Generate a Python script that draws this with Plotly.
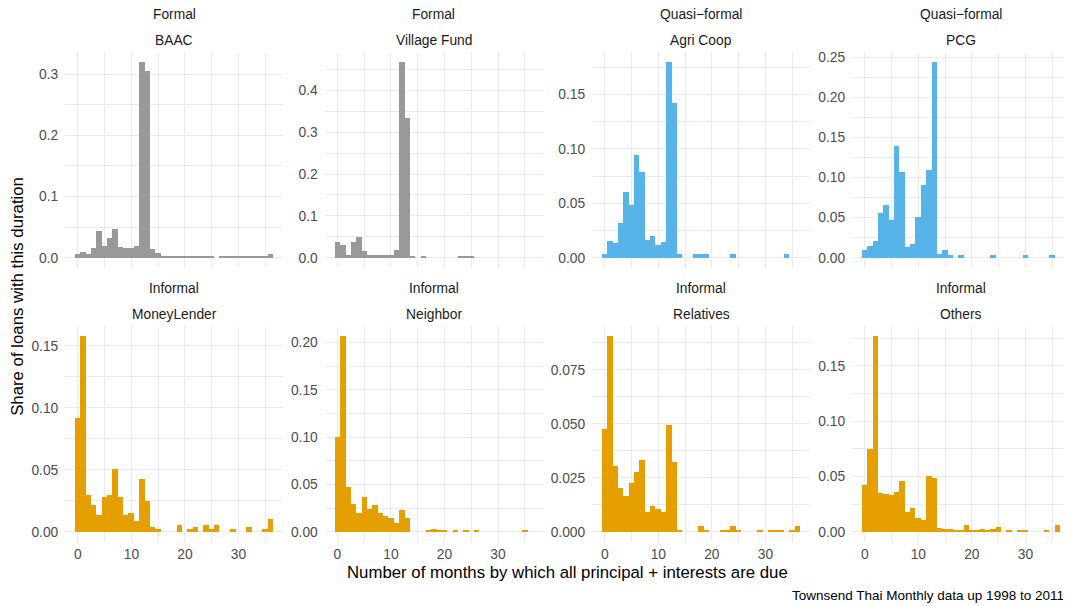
import plotly.graph_objects as go

# ---------------- data (share of loans by months until due, bins of width 1 centred on 0..36)
months = list(range(37))

baac = [0.0065, 0.009, 0.005, 0.015, 0.043, 0.019, 0.032, 0.047, 0.017, 0.016, 0.016, 0.019,
        0.320, 0.305, 0.014, 0.008, 0.001, 0.001, 0.001, 0.002, 0.001, 0.001, 0.001, 0.001,
        0.002, 0.002, 0.0, 0.002, 0.002, 0.001, 0.002, 0.002, 0.001, 0.001, 0.001, 0.001, 0.005]
village_fund = [0.037, 0.031, 0.005, 0.038, 0.050, 0.016, 0.007, 0.006, 0.005, 0.005, 0.007, 0.018,
                0.468, 0.333, 0.003, 0.0, 0.002, 0.0, 0.0, 0.0, 0.0, 0.0, 0.0, 0.002,
                0.004, 0.002, 0.0, 0.0, 0.0, 0.0, 0.0, 0.0, 0.0, 0.0, 0.0, 0.0, 0.0]
agri_coop = [0.003, 0.015, 0.0135, 0.032, 0.060, 0.048, 0.094, 0.0785, 0.0165, 0.0196, 0.0113, 0.0147,
             0.180, 0.1423, 0.003, 0.0, 0.0, 0.003, 0.003, 0.003, 0.0, 0.0, 0.0, 0.0,
             0.003, 0.0, 0.0, 0.0, 0.0, 0.0, 0.0, 0.0, 0.0, 0.0, 0.003, 0.0, 0.0]
pcg = [0.0088, 0.0146, 0.020, 0.055, 0.065, 0.0467, 0.139, 0.106, 0.0125, 0.0167, 0.051, 0.090,
       0.109, 0.244, 0.005, 0.0088, 0.003, 0.0, 0.003, 0.0, 0.0, 0.0, 0.0, 0.0,
       0.003, 0.0, 0.0, 0.0, 0.0, 0.0, 0.003, 0.0, 0.0, 0.0, 0.0, 0.003, 0.0]
money_lender = [0.092, 0.158, 0.0293, 0.0212, 0.0134, 0.028, 0.0296, 0.0503, 0.0277, 0.0134, 0.0153, 0.0089,
                0.0422, 0.0245, 0.0038, 0.0022, 0.0, 0.0, 0.0, 0.0051, 0.0, 0.0022, 0.0038, 0.0,
                0.0051, 0.0022, 0.0051, 0.0, 0.0, 0.0022, 0.0, 0.0, 0.0038, 0.0, 0.0, 0.0022, 0.0102]
neighbor = [0.0996, 0.207, 0.0475, 0.0298, 0.0199, 0.0369, 0.0245, 0.0287, 0.0199, 0.0167, 0.0149, 0.0096,
            0.0227, 0.0145, 0.0, 0.0, 0.0, 0.0014, 0.0025, 0.0018, 0.0018, 0.0, 0.0018, 0.0,
            0.0018, 0.0, 0.0018, 0.0, 0.0, 0.0, 0.0, 0.0, 0.0, 0.0, 0.0, 0.0018, 0.0]
relatives = [0.0474, 0.0907, 0.0305, 0.0201, 0.0164, 0.0224, 0.0276, 0.0333, 0.0091, 0.0121, 0.0105, 0.0091,
             0.0495, 0.0325, 0.0009, 0.0, 0.0, 0.0, 0.0025, 0.0009, 0.0, 0.0, 0.0009, 0.0009,
             0.0025, 0.0009, 0.0, 0.0, 0.0, 0.0009, 0.0, 0.0009, 0.0009, 0.0009, 0.0, 0.0009, 0.0025]
others = [0.042, 0.0748, 0.177, 0.0348, 0.0345, 0.0336, 0.036, 0.0458, 0.0176, 0.0212, 0.0124, 0.0109,
          0.0503, 0.0482, 0.0033, 0.0024, 0.0027, 0.0015, 0.0015, 0.0058, 0.0015, 0.0015, 0.0021, 0.0015,
          0.0027, 0.0042, 0.0, 0.0015, 0.0, 0.0015, 0.0015, 0.0, 0.0, 0.0, 0.0015, 0.0, 0.0058]

groups = ["Formal", "Formal", "Quasi\u2212formal", "Quasi\u2212formal",
          "Informal", "Informal", "Informal", "Informal"]
lenders = ["BAAC", "Village Fund", "Agri Coop", "PCG",
           "MoneyLender", "Neighbor", "Relatives", "Others"]
series = [baac, village_fund, agri_coop, pcg, money_lender, neighbor, relatives, others]
colors = ["#999999", "#999999", "#56B4E9", "#56B4E9",
          "#E69F00", "#E69F00", "#E69F00", "#E69F00"]
y_dticks = [0.1, 0.1, 0.05, 0.05, 0.05, 0.05, 0.025, 0.05]
y_formats = [".1f", ".1f", ".2f", ".2f", ".2f", ".2f", ".3f", ".2f"]
x_ticks = [0, 10, 20, 30]

# ---------------- layout geometry (page pixels; the page body has an 8px margin)
OX, OY = 8, 8
W, H = 1071 - OX, 606 - OY
col_left = [65.3, 324.8, 592.2, 852.2]
panel_w = 217.9
row_top = [52.2, 326.0]
row_bot = [267.5, 541.5]

def px(x):
    return (x - OX) / W

def py(y):
    return 1 - (y - OY) / H

FONT = "Liberation Sans, Arial, Helvetica, sans-serif"
GRID = "#EBEBEB"
SMALL = 13.8
BIG = 16.8

fig = go.Figure()
layout = dict(
    width=W, height=H,
    margin=dict(l=0, r=0, t=0, b=0),
    paper_bgcolor="white", plot_bgcolor="white",
    showlegend=False,
    font=dict(family=FONT, size=SMALL, color="#4D4D4D"),
    bargap=0,
)
annotations = []

for i, (g, name, vals, col) in enumerate(zip(groups, lenders, series, colors)):
    r, c = divmod(i, 4)
    ax = "" if i == 0 else str(i + 1)
    fig.add_trace(go.Bar(
        x=months, y=vals, width=1.0,
        marker=dict(color=col, line=dict(width=0)),
        xaxis="x" + ax, yaxis="y" + ax,
        hovertemplate="%{x}: %{y}<extra>" + name + "</extra>",
    ))
    x0, x1 = col_left[c], col_left[c] + panel_w
    y0, y1 = row_top[r], row_bot[r]
    ymax = max(vals)
    yr = [-0.05 * ymax, 1.05 * ymax]
    dt = y_dticks[i]
    layout["xaxis" + ax] = dict(
        domain=[px(x0), px(x1)], anchor="y" + ax,
        range=[-2.35, 38.35], tickvals=x_ticks,
        showticklabels=(r == 1), ticks="", showline=False, zeroline=False,
        showgrid=True, gridcolor=GRID, gridwidth=1.2,
        minor=dict(tickvals=[5, 15, 25, 35], showgrid=True, gridcolor=GRID, gridwidth=0.8),
        tickfont=dict(size=SMALL, color="#4D4D4D"), automargin=False,
        ticklabelstandoff=3,
        fixedrange=True,
    )
    layout["yaxis" + ax] = dict(
        domain=[py(y1), py(y0)], anchor="x" + ax,
        range=yr, tick0=0, dtick=dt, tickformat=y_formats[i],
        ticks="", showline=False, zeroline=False,
        showgrid=True, gridcolor=GRID, gridwidth=1.2,
        minor=dict(tick0=dt / 2, dtick=dt, showgrid=True, gridcolor=GRID, gridwidth=0.8),
        tickfont=dict(size=SMALL, color="#4D4D4D"), automargin=False,
        ticklabelstandoff=6,
        fixedrange=True,
    )
    cx = (x0 + x1) / 2
    annotations.append(dict(text=g, x=px(cx), y=py(14.3 if r == 0 else 288.5),
                            xref="paper", yref="paper",
                            showarrow=False, xanchor="center", yanchor="middle",
                            font=dict(size=SMALL, color="#1A1A1A", family=FONT)))
    annotations.append(dict(text=name, x=px(cx), y=py(40.5 if r == 0 else 314.5),
                            xref="paper", yref="paper",
                            showarrow=False, xanchor="center", yanchor="middle",
                            font=dict(size=SMALL, color="#1A1A1A", family=FONT)))

annotations.append(dict(text="Number of months by which all principal + interests are due",
                        x=px((col_left[0] + col_left[3] + panel_w) / 2), y=py(572),
                        xref="paper", yref="paper", showarrow=False,
                        xanchor="center", yanchor="middle",
                        font=dict(size=BIG, color="black", family=FONT)))
annotations.append(dict(text="Share of loans with this duration",
                        x=px(18), y=py((row_top[0] + row_bot[1]) / 2),
                        xref="paper", yref="paper", showarrow=False, textangle=-90,
                        xanchor="center", yanchor="middle",
                        font=dict(size=BIG, color="black", family=FONT)))
annotations.append(dict(text="Townsend Thai Monthly data up 1998 to 2011",
                        x=px(1066), y=py(595), xref="paper", yref="paper", showarrow=False,
                        xanchor="right", yanchor="middle",
                        font=dict(size=13.5, color="black", family=FONT)))

layout["annotations"] = annotations
fig.update_layout(**layout)
fig.write_html("out.html")
